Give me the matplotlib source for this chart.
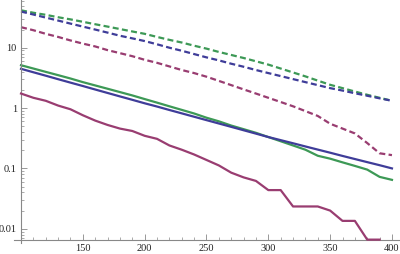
import matplotlib
matplotlib.use("Agg")
import matplotlib.pyplot as plt
from matplotlib.ticker import FixedLocator, NullFormatter, FixedFormatter

x = [100, 110, 120, 130, 140, 150, 160, 170, 180, 190, 200, 210, 220, 230, 240, 250,
     260, 270, 280, 290, 300, 310, 320, 330, 340, 350, 360, 370, 380, 390, 400]

green_dashed = [41.7, 38.0, 35.1, 32.0, 29.5, 26.9, 24.5, 22.4, 20.4, 18.6, 17.0, 15.1, 13.5,
                12.2, 10.8, 9.66, 8.51, 7.59, 6.76, 5.96, 5.25, 4.52, 3.89, 3.35, 2.85, 2.43,
                2.14, 1.88, 1.66, 1.48, 1.32]
blue_dashed = [39.8, 35.5, 31.6, 28.2, 25.1, 22.4, 20.0, 17.8, 15.8, 14.3, 12.9, 11.4, 10.0,
               8.91, 7.85, 6.92, 6.17, 5.43, 4.84, 4.27, 3.80, 3.39, 3.02, 2.69, 2.40, 2.14,
               1.95, 1.76, 1.60, 1.45, 1.32]
purple_dashed = [21.9, 19.5, 17.0, 15.1, 13.2, 11.7, 10.5, 9.12, 8.13, 7.24, 6.31, 5.62, 4.90,
                 4.27, 3.80, 3.31, 2.82, 2.40, 2.04, 1.74, 1.48, 1.26, 1.07, 0.89, 0.74, 0.55,
                 0.457, 0.38, 0.263, 0.178, 0.166]
green_solid = [5.13, 4.52, 3.98, 3.51, 3.09, 2.69, 2.37, 2.09, 1.84, 1.62, 1.41, 1.23, 1.07,
               0.933, 0.813, 0.692, 0.603, 0.513, 0.447, 0.389, 0.331, 0.282, 0.240, 0.204,
               0.162, 0.145, 0.126, 0.110, 0.0955, 0.0724, 0.0646]
blue_solid = [4.47, 3.92, 3.44, 3.01, 2.64, 2.32, 2.03, 1.78, 1.56, 1.37, 1.20, 1.06, 0.929,
              0.817, 0.718, 0.631, 0.555, 0.488, 0.429, 0.377, 0.331, 0.294, 0.261, 0.231,
              0.205, 0.182, 0.161, 0.143, 0.127, 0.113, 0.100]
x_purple = x[:30]
purple_solid = [1.74, 1.48, 1.32, 1.10, 0.955, 0.76, 0.62, 0.525, 0.457, 0.417, 0.347, 0.309,
                0.24, 0.204, 0.17, 0.138, 0.112, 0.085, 0.071, 0.062, 0.0437, 0.0437, 0.0234,
                0.0234, 0.0234, 0.020, 0.0135, 0.0135, 0.0066, 0.0066]

x_ticks = [150, 200, 250, 300, 350, 400]
y_ticks = [0.01, 0.1, 1, 10]
y_tick_labels = ["0.01", "0.1", "1", "10"]

BLUE = "#3F3D99"
PURPLE = "#993D71"
GREEN = "#3D9956"

X_ORIGIN = 100
Y_ORIGIN = 0.0066

fig = plt.figure(figsize=(4.0, 2.54), dpi=100)
ax = fig.add_axes([0.034, 0.045, 0.966, 0.955])
lw = 1.6
dash = (0, (2.7, 1.5))
ax.plot(x, green_dashed, color=GREEN, lw=lw, linestyle=dash)
ax.plot(x, blue_dashed, color=BLUE, lw=lw, linestyle=dash)
ax.plot(x, purple_dashed, color=PURPLE, lw=lw, linestyle=dash)
ax.plot(x, green_solid, color=GREEN, lw=lw)
ax.plot(x, blue_solid, color=BLUE, lw=lw)
ax.plot(x_purple, purple_solid, color=PURPLE, lw=lw, clip_on=False, zorder=5)

ax.set_yscale("log")
ax.set_xlim(94, 406.5)
ax.set_ylim(0.0059, 61.8)

for s in ["top", "right"]:
    ax.spines[s].set_visible(False)
ax.spines["left"].set_position(("data", X_ORIGIN))
ax.spines["bottom"].set_position(("data", Y_ORIGIN))
for s in ["left", "bottom"]:
    ax.spines[s].set_color("#888888")
    ax.spines[s].set_linewidth(0.8)

ax.xaxis.set_major_locator(FixedLocator(x_ticks))
ax.xaxis.set_minor_locator(FixedLocator([v for v in range(110, 401, 10) if v % 50]))
ax.yaxis.set_major_locator(FixedLocator(y_ticks))
ax.yaxis.set_major_formatter(FixedFormatter(y_tick_labels))
minor_y = [m * 10.0 ** e for e in range(-3, 2) for m in range(2, 10)]
minor_y = [v for v in minor_y if v > Y_ORIGIN]
ax.yaxis.set_minor_locator(FixedLocator(minor_y))
ax.yaxis.set_minor_formatter(NullFormatter())

ax.tick_params(which="major", direction="in", length=4.5, width=0.6, color="#888888",
               labelsize=7.5, pad=3)
ax.tick_params(which="minor", direction="in", length=2.5, width=0.5, color="#888888")
for lab in ax.get_xticklabels() + ax.get_yticklabels():
    lab.set_fontfamily("Liberation Serif")
    lab.set_color("#222222")

fig.savefig("out.png", dpi=100)
